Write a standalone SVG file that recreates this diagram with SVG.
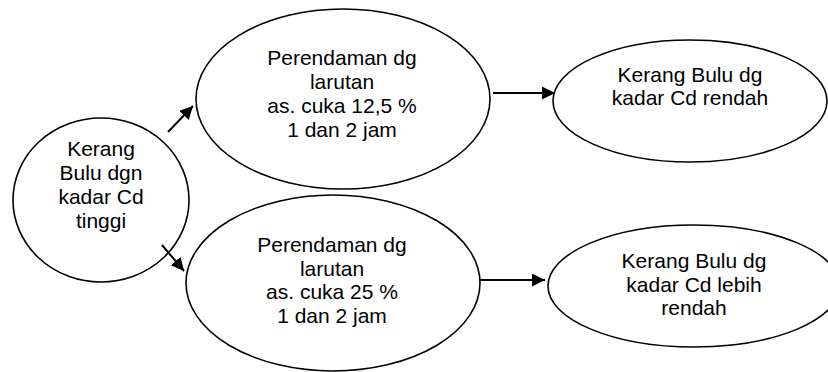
<svg xmlns="http://www.w3.org/2000/svg" width="828" height="372" viewBox="0 0 828 372">
<style>
.n{fill:#fff;stroke:#000;stroke-width:1.6}
.t{font-family:"Liberation Sans",Arial,sans-serif;font-size:21px;fill:#000;text-anchor:middle}
.c{stroke:#000;stroke-width:2;fill:none;marker-end:url(#ah)}
</style>
<defs>
<marker id="ah" markerUnits="userSpaceOnUse" markerWidth="14" markerHeight="14" refX="13" refY="6.5" orient="auto" viewBox="0 0 14 14">
<path d="M0,0 L13,6.5 L0,13 Z" fill="#000"/>
</marker>
</defs>
<rect width="828" height="372" fill="#fff"/>
<g id="n1"><ellipse class="n" cx="101" cy="200" rx="88" ry="82"/>
<text class="t" x="101"><tspan x="101" y="156">Kerang</tspan><tspan x="101" y="180">Bulu dgn</tspan><tspan x="101" y="204">kadar Cd</tspan><tspan x="101" y="228">tinggi</tspan></text></g>
<g id="n2"><ellipse class="n" cx="343" cy="99" rx="147" ry="90"/>
<text class="t"><tspan x="342" y="65">Perendaman dg</tspan><tspan x="342" y="89">larutan</tspan><tspan x="342" y="113">as. cuka 12,5 %</tspan><tspan x="342" y="137">1 dan 2 jam</tspan></text></g>
<g id="n3"><ellipse class="n" cx="333" cy="283" rx="147" ry="88"/>
<text class="t"><tspan x="332" y="252">Perendaman dg</tspan><tspan x="332" y="276">larutan</tspan><tspan x="332" y="299">as. cuka 25 %</tspan><tspan x="332" y="323">1 dan 2 jam</tspan></text></g>
<g id="n4"><ellipse class="n" cx="690" cy="101" rx="137" ry="61"/>
<text class="t"><tspan x="690" y="82">Kerang Bulu dg</tspan><tspan x="690" y="105">kadar Cd rendah</tspan></text></g>
<g id="n5"><ellipse class="n" cx="694" cy="286" rx="146" ry="61"/>
<text class="t"><tspan x="694" y="268">Kerang Bulu dg</tspan><tspan x="694" y="292">kadar Cd lebih</tspan><tspan x="694" y="315">rendah</tspan></text></g>
<g id="connectors">
<line class="c" x1="168" y1="132" x2="193" y2="106"/>
<line class="c" x1="162" y1="245" x2="184" y2="271"/>
<line class="c" x1="493" y1="93" x2="555" y2="93"/>
<line class="c" x1="480" y1="280" x2="545" y2="280"/>
</g>
</svg>
